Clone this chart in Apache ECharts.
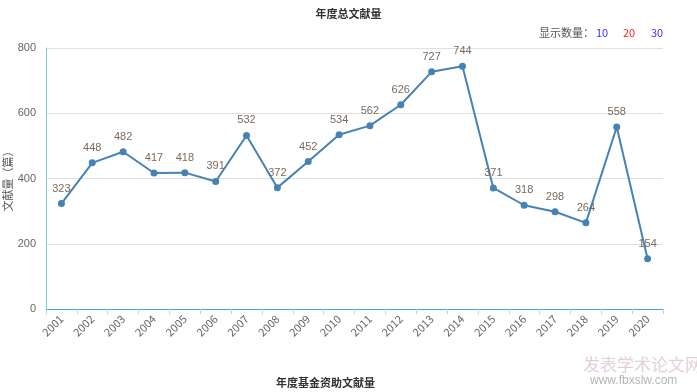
<!DOCTYPE html>
<html><head><meta charset="utf-8">
<script src="https://cdn.jsdelivr.net/npm/echarts@6/dist/echarts.min.js"></script>
<style>html,body{margin:0;padding:0;background:#fff}#c{width:697px;height:392px}</style>
</head><body><div id="c"></div>
<script>
const years = ['2001','2002','2003','2004','2005','2006','2007','2008','2009','2010','2011','2012','2013','2014','2015','2016','2017','2018','2019','2020'];
const counts = [323,448,482,417,418,391,532,372,452,534,562,626,727,744,371,318,298,264,558,154];
const yTicks = [0,200,400,600,800];
const chart = echarts.init(document.getElementById('c'));
const font = '"Microsoft YaHei","Noto Sans CJK SC",sans-serif';
chart.setOption({
  animation: false,
  title: {text: '年度总文献量', left: 'center', top: 3, textStyle: {fontSize: 11, fontWeight: 'bold', color: '#333', fontFamily: font}},
  grid: {left: 46, right: 34, top: 48, bottom: 83, containLabel: false, outerBoundsMode: 'none'},
  xAxis: {
    type: 'category', data: years, boundaryGap: true,
    axisLine: {lineStyle: {color: '#3fa7dc', width: 1}},
    axisTick: {show: true, alignWithLabel: false, lineStyle: {color: '#ccc'}},
    axisLabel: {rotate: 45, color: '#666', fontSize: 11, margin: 8, fontFamily: font}
  },
  yAxis: {
    type: 'value', min: yTicks[0], max: yTicks[yTicks.length-1], interval: 200,
    name: '文献量（篇）', nameLocation: 'middle', nameGap: 33, nameRotate: 90, nameMoveOverlap: false,
    nameTextStyle: {color: '#555', fontSize: 11, fontFamily: font},
    axisLine: {show: true, lineStyle: {color: '#7fc6ea', width: 1}},
    axisTick: {show: false},
    axisLabel: {color: '#666', fontSize: 11, margin: 10},
    splitLine: {lineStyle: {color: '#e0e0e0'}}
  },
  series: [{
    type: 'line', data: counts, symbol: 'circle', symbolSize: 7,
    itemStyle: {color: '#4682b4'}, lineStyle: {color: '#4682b4', width: 2},
    label: {show: true, position: 'top', color: '#7a6a5c', fontSize: 11, distance: 6}
  }],
  graphic: [
    {type: 'text', left: 539, top: 27, style: {text: '显示数量：', fill: '#555', font: '11px ' + font}},
    {type: 'text', left: 596, top: 27, style: {text: '10', fill: '#3333ff', font: '11px ' + font}},
    {type: 'text', left: 623, top: 27, style: {text: '20', fill: '#ff2222', font: '11px ' + font}},
    {type: 'text', left: 651, top: 27, style: {text: '30', fill: '#3333ff', font: '11px ' + font}},
    {type: 'text', left: 276, top: 377, style: {text: '年度基金资助文献量', fill: '#333', font: 'bold 11px ' + font}},
    {type: 'text', left: 583, top: 356, style: {text: '发表学术论文网', fill: 'rgba(200,160,170,0.5)', font: '17px ' + font}},
    {type: 'text', left: 590, top: 375, style: {text: 'www.fbxslw.com', fill: 'rgba(130,130,130,0.6)', font: '12px Arial,sans-serif'}}
  ]
});
</script></body></html>
